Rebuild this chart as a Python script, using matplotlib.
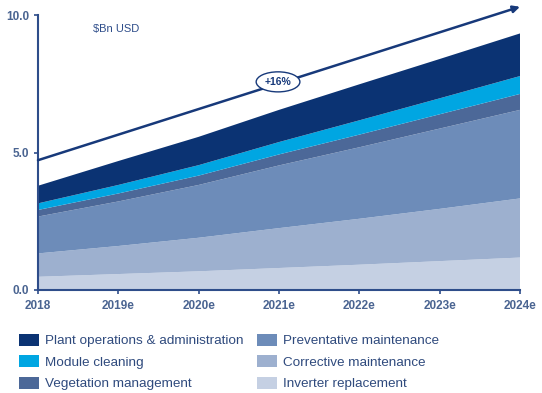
#!/usr/bin/env python3
"""Solar O&M market size by segment, stacked area chart."""
import matplotlib
matplotlib.use('Agg')
import matplotlib.pyplot as plt
from matplotlib.patches import Patch

# Data ($Bn USD)
years = ['2018', '2019e', '2020e', '2021e', '2022e', '2023e', '2024e']
inverter = [0.48, 0.58, 0.68, 0.80, 0.92, 1.05, 1.18]
corrective = [0.85, 1.02, 1.22, 1.45, 1.67, 1.90, 2.15]
preventative = [1.34, 1.62, 1.92, 2.28, 2.60, 2.92, 3.22]
vegetation = [0.24, 0.29, 0.34, 0.40, 0.46, 0.52, 0.58]
module = [0.24, 0.31, 0.38, 0.45, 0.52, 0.58, 0.65]
plant = [0.64, 0.87, 1.03, 1.17, 1.31, 1.43, 1.55]
arrow_start = 4.72
arrow_end = 10.3
growth_label = '+16%'

series = [
    ('Inverter replacement', inverter, '#c5d0e3'),
    ('Corrective maintenance', corrective, '#9db0cf'),
    ('Preventative maintenance', preventative, '#6d8cb9'),
    ('Vegetation management', vegetation, '#4c6898'),
    ('Module cleaning', module, '#00a6e2'),
    ('Plant operations & administration', plant, '#0b3373'),
]

AXIS_COL = '#2e4d8a'
TEXT_COL = '#4a6491'

plt.rcParams['font.family'] = ['Liberation Sans', 'DejaVu Sans']

fig = plt.figure(figsize=(5.42, 3.93), dpi=100)
ax = fig.add_axes([0.0701, 0.2621, 0.8893, 0.6997])

x = list(range(len(years)))
ax.stackplot(x, *[s[1] for s in series], colors=[s[2] for s in series],
             linewidth=0)

ax.set_xlim(0, len(years) - 1)
ax.set_ylim(0, 10)
ax.set_xticks(x)
ax.set_xticklabels(years)
ax.set_yticks([0, 5, 10])
ax.set_yticklabels(['0.0', '5.0', '10.0'])

for side in ['top', 'right']:
    ax.spines[side].set_visible(False)
for side in ['left', 'bottom']:
    ax.spines[side].set_color(AXIS_COL)
    ax.spines[side].set_linewidth(1.5)
ax.tick_params(colors=AXIS_COL, width=1.2, length=3, labelcolor=TEXT_COL,
               labelsize=8.5)
ax.tick_params(axis='x', pad=4)
for lbl in ax.get_xticklabels() + ax.get_yticklabels():
    lbl.set_fontweight('bold')

ax.text(0.68, 9.5, '$Bn USD', color='#2e4d8a', fontsize=8, ha='left', va='center')

# Growth arrow
ax.annotate('', xy=(len(years) - 1, arrow_end), xytext=(0, arrow_start),
            arrowprops=dict(arrowstyle='-|>', color='#17397a', lw=1.8,
                            mutation_scale=10, shrinkA=0, shrinkB=0),
            annotation_clip=False)
mid = (len(years) - 1) * 0.498
ax.text(mid, arrow_start + (arrow_end - arrow_start) * 0.498 + 0.07, growth_label,
        ha='center', va='center', fontsize=7.5, fontweight='bold', color='#17397a',
        bbox=dict(boxstyle='ellipse,pad=0.2', fc='white', ec='#17397a', lw=1.0))

# Legend
order = [5, 4, 3, 2, 1, 0]
handles = [Patch(facecolor=series[i][2], edgecolor='none', label=series[i][0])
           for i in order]
leg = fig.legend(handles=handles, loc='upper left', bbox_to_anchor=(0.022, 0.168),
                 ncol=2, frameon=False, fontsize=9.7, borderpad=0,
                 handlelength=1.5, handleheight=1.0, handletextpad=0.45,
                 labelspacing=0.58, columnspacing=1.0)
for t in leg.get_texts():
    t.set_color('#2f4a7d')

plt.savefig('out.png', dpi=100)
plt.close()
